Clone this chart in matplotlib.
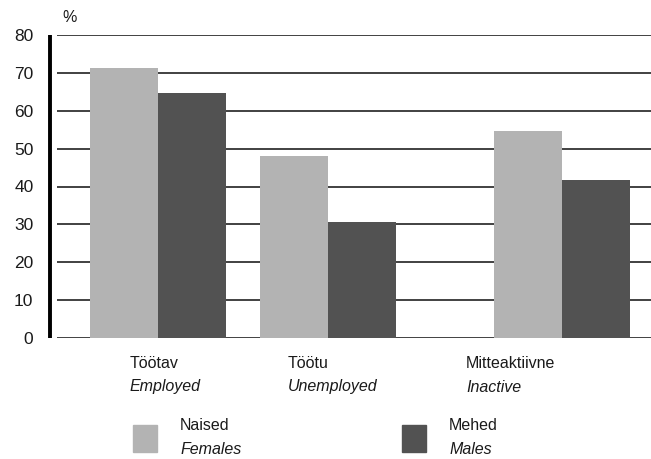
import matplotlib

matplotlib.use("Agg")

import matplotlib.pyplot as plt
from matplotlib.patches import Rectangle

# data
categories_et = ["Töötav", "Töötu", "Mitteaktiivne"]
categories_en = ["Employed", "Unemployed", "Inactive"]
females = [71.3, 48.0, 54.6]
males = [64.6, 30.6, 41.7]
series_et = ["Naised", "Mehed"]
series_en = ["Females", "Males"]
yticks = [0, 10, 20, 30, 40, 50, 60, 70, 80]

plt.rcParams["font.family"] = ["Liberation Sans", "DejaVu Sans"]

W, H = 651, 459
LIGHT = "#b3b3b3"
DARK = "#525252"
TEXT = "#1a1a1a"
FS = 11.5

fig = plt.figure(figsize=(W / 100, H / 100), dpi=100)
ax = fig.add_axes([57 / W, (H - 338) / H, (W - 57) / W, (338 - 35) / H])

# category centres are unevenly spaced in the original
centers = [0.0, 1.0, 2.376]
width = 0.4
ax.bar([c - width / 2 for c in centers], females, width=width, color=LIGHT, zorder=3)
ax.bar([c + width / 2 for c in centers], males, width=width, color=DARK, zorder=3)

ax.set_xlim((57 - 158) / 170, (W - 158) / 170)
ax.set_ylim(0, 80)
ax.set_yticks(yticks)
ax.set_xticks([])
ax.yaxis.grid(True, color="#333333", linewidth=1.3, zorder=0)
ax.set_axisbelow(True)
for side in ["top", "right", "bottom"]:
    ax.spines[side].set_visible(False)
ax.spines["left"].set_position(("outward", 5))
ax.spines["left"].set_linewidth(2.8)
ax.spines["left"].set_color("black")
ax.spines["left"].set_capstyle("butt")
ax.tick_params(axis="y", length=0, pad=12, labelsize=12.5, labelcolor=TEXT)

fig.text(62 / W, 1 - 17 / H, "%", fontsize=FS, color=TEXT, va="center", ha="left")

# category labels (Estonian over English italic)
label_x = [130, 288, 466]
for x, et, en in zip(label_x, categories_et, categories_en):
    fig.text(x / W, 1 - 363 / H, et, fontsize=FS, color=TEXT, va="center", ha="left")
    fig.text(x / W, 1 - 387 / H, en, fontsize=FS, color=TEXT, va="center", ha="left",
             style="italic")

# legend
legend_box_x = [133, 402]
legend_text_x = [180, 449]
for bx, tx, col, et, en in zip(legend_box_x, legend_text_x, [LIGHT, DARK], series_et, series_en):
    fig.patches.append(Rectangle((bx / W, 1 - 452 / H), 24 / W, 27 / H,
                                 transform=fig.transFigure, color=col))
    fig.text(tx / W, 1 - 425 / H, et, fontsize=FS, color=TEXT, va="center", ha="left")
    fig.text(tx / W, 1 - 450 / H, en, fontsize=FS, color=TEXT, va="center", ha="left",
             style="italic")

fig.savefig("out.png", dpi=100)
plt.close(fig)
